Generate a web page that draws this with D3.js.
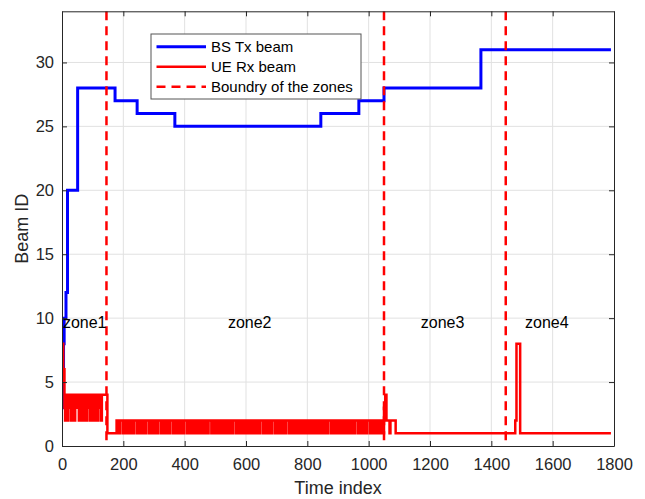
<!DOCTYPE html>
<html>
<head>
<meta charset="utf-8">
<script src="https://cdn.jsdelivr.net/npm/d3@7"></script>
<style>
  body { margin: 0; background: #fff; }
  svg { font-family: "Liberation Sans", Arial, Helvetica, sans-serif; }
</style>
</head>
<body>
<script>
// BS Tx beam: step points (time index, beam id)
const bsTime = [1, 3, 5, 7, 13, 18, 51, 173, 245, 368, 844, 968, 1050, 1366, 1790];
const bsBeam = [3, 4, 8, 10, 12, 20, 28, 27, 26, 25, 26, 27, 28, 31, 31];

// UE Rx beam, start of run
const ueHeadTime = [1, 2, 4, 6, 8];
const ueHeadBeam = [6, 8, 5, 6, 3];

// zone1 jitter, one char every 3 time steps from t=10
const ueZone1 = ["2424342424", "2443424242", "4242434242", "2424424342"];
const ueZone1Start = 10;

// short hold around the first boundary
const ueMidTime = [130, 148];
const ueMidBeam = [4, 1];

// zone2 jitter, one char every 3 time steps from t=178
const ueZone2 = [
  "2121222121", "2121121212", "2212121121", "2122212121", "1212122212",
  "1211212122", "2121212112", "1212221212", "1121212212", "1212112121",
  "2221212121", "1212122121", "2112121222", "1212121121", "2122121212",
  "1121212221", "2121121212", "2212121211", "2121222121", "2121121212",
  "2122121211", "2121221212", "1212112121", "2221212121", "1212122121",
  "2112121212", "2212121121", "2122212121", "1212122121"
];
const ueZone2Start = 178;
const ueStep = 3;

// tail after zone2
const ueTailTime = [1050, 1054, 1058, 1068, 1071, 1088, 1474, 1478, 1482, 1494, 1790];
const ueTailBeam = [3, 4, 2, 1, 2, 1, 1, 2, 8, 1, 1];

const zoneBounds = [145, 1050, 1447];
const zoneLabels = ["zone1", "zone2", "zone3", "zone4"];
const zoneLabelX = [3, 541, 1170, 1510];
const zoneLabelY = 9.7;

const xTicks = [0, 200, 400, 600, 800, 1000, 1200, 1400, 1600, 1800];
const yTicks = [0, 5, 10, 15, 20, 25, 30];

const W = 645, H = 499;
const L = 62, R = 614, T = 11.3, B = 446;

const x = d3.scaleLinear().domain([0, 1800]).range([L, R]);
const y = d3.scaleLinear().domain([0, 34]).range([B, T]);

const svg = d3.select("body").append("svg")
    .attr("width", W)
    .attr("height", H);

svg.append("defs").append("clipPath").attr("id", "plotclip")
  .append("rect").attr("x", L).attr("y", T).attr("width", R - L).attr("height", B - T);

// grid
const grid = svg.append("g");
grid.selectAll(".gx").data(xTicks.slice(1, -1)).enter().append("line")
    .attr("x1", d => x(d)).attr("x2", d => x(d))
    .attr("y1", T).attr("y2", B)
    .attr("stroke", "#e1e1e1").attr("stroke-width", 1);
grid.selectAll(".gy").data(yTicks.slice(1)).enter().append("line")
    .attr("x1", L).attr("x2", R)
    .attr("y1", d => y(d)).attr("y2", d => y(d))
    .attr("stroke", "#e1e1e1").attr("stroke-width", 1);

// build series
const bsData = bsTime.map((t, i) => [t, bsBeam[i]]);

let ueData = ueHeadTime.map((t, i) => [t, ueHeadBeam[i]]);
ueZone1.join("").split("").forEach((c, i) => ueData.push([ueZone1Start + i * ueStep, +c]));
ueMidTime.forEach((t, i) => ueData.push([t, ueMidBeam[i]]));
ueZone2.join("").split("").forEach((c, i) => ueData.push([ueZone2Start + i * ueStep, +c]));
ueTailTime.forEach((t, i) => ueData.push([t, ueTailBeam[i]]));

const line = d3.line()
    .x(d => x(d[0]))
    .y(d => y(d[1]))
    .curve(d3.curveStepAfter);

const plot = svg.append("g").attr("clip-path", "url(#plotclip)");

plot.append("path")
    .datum(bsData)
    .attr("d", line)
    .attr("fill", "none")
    .attr("stroke", "#0000ff")
    .attr("stroke-width", 3);

plot.append("path")
    .datum(ueData)
    .attr("d", line)
    .attr("fill", "none")
    .attr("stroke", "#ff0000")
    .attr("stroke-width", 2.5);

plot.selectAll(".bound").data(zoneBounds).enter().append("line")
    .attr("x1", d => x(d)).attr("x2", d => x(d))
    .attr("y1", T).attr("y2", B)
    .attr("stroke", "#ff0000")
    .attr("stroke-width", 2.5)
    .attr("stroke-dasharray", "9,6");

// zone labels
svg.selectAll(".zone").data(zoneLabels).enter().append("text")
    .attr("x", (d, i) => x(zoneLabelX[i]))
    .attr("y", y(zoneLabelY))
    .attr("dy", "0.35em")
    .attr("font-size", 16)
    .attr("fill", "#000")
    .text(d => d);

// axes
const axisColor = "#262626";
function styleAxis(g) {
  g.selectAll("path, line").attr("stroke", axisColor);
  g.selectAll("text").attr("fill", axisColor).attr("font-size", 16.5)
    .attr("font-family", "'Liberation Sans', Arial, sans-serif");
}

svg.append("g")
    .attr("transform", `translate(0,${B})`)
    .call(d3.axisBottom(x).tickValues(xTicks).tickFormat(d3.format("d"))
      .tickSizeInner(-5).tickSizeOuter(0).tickPadding(12))
    .call(styleAxis);

svg.append("g")
    .attr("transform", `translate(0,${T})`)
    .call(d3.axisTop(x).tickValues(xTicks).tickSizeInner(-5).tickSizeOuter(0).tickFormat(""))
    .call(styleAxis);

svg.append("g")
    .attr("transform", `translate(${L},0)`)
    .call(d3.axisLeft(y).tickValues(yTicks).tickFormat(d3.format("d"))
      .tickSizeInner(-5).tickSizeOuter(0).tickPadding(8))
    .call(styleAxis);

svg.append("g")
    .attr("transform", `translate(${R},0)`)
    .call(d3.axisRight(y).tickValues(yTicks).tickSizeInner(-5).tickSizeOuter(0).tickFormat(""))
    .call(styleAxis);

// axis labels
svg.append("text")
    .attr("x", (L + R) / 2)
    .attr("y", 494)
    .attr("text-anchor", "middle")
    .attr("font-size", 18)
    .attr("fill", axisColor)
    .text("Time index");

svg.append("text")
    .attr("transform", `translate(28,${(T + B) / 2}) rotate(-90)`)
    .attr("text-anchor", "middle")
    .attr("font-size", 18)
    .attr("fill", axisColor)
    .text("Beam ID");

// legend
const legendItems = [
  {label: "BS Tx beam", color: "#0000ff", dash: null, w: 3},
  {label: "UE Rx beam", color: "#ff0000", dash: null, w: 2.5},
  {label: "Boundry of the zones", color: "#ff0000", dash: "9,6", w: 2.5}
];
const lg = svg.append("g");
lg.append("rect")
    .attr("x", 151).attr("y", 34)
    .attr("width", 210).attr("height", 65)
    .attr("fill", "#fff")
    .attr("stroke", "#555")
    .attr("stroke-width", 1);
legendItems.forEach((d, i) => {
  const ly = 46.7 + i * 20;
  lg.append("line")
      .attr("x1", 156.5).attr("x2", 206).attr("y1", ly).attr("y2", ly)
      .attr("stroke", d.color).attr("stroke-width", d.w)
      .attr("stroke-dasharray", d.dash);
  lg.append("text")
      .attr("x", 211).attr("y", ly).attr("dy", "0.35em")
      .attr("font-size", 15).attr("fill", "#000")
      .text(d.label);
});
</script>
</body>
</html>
